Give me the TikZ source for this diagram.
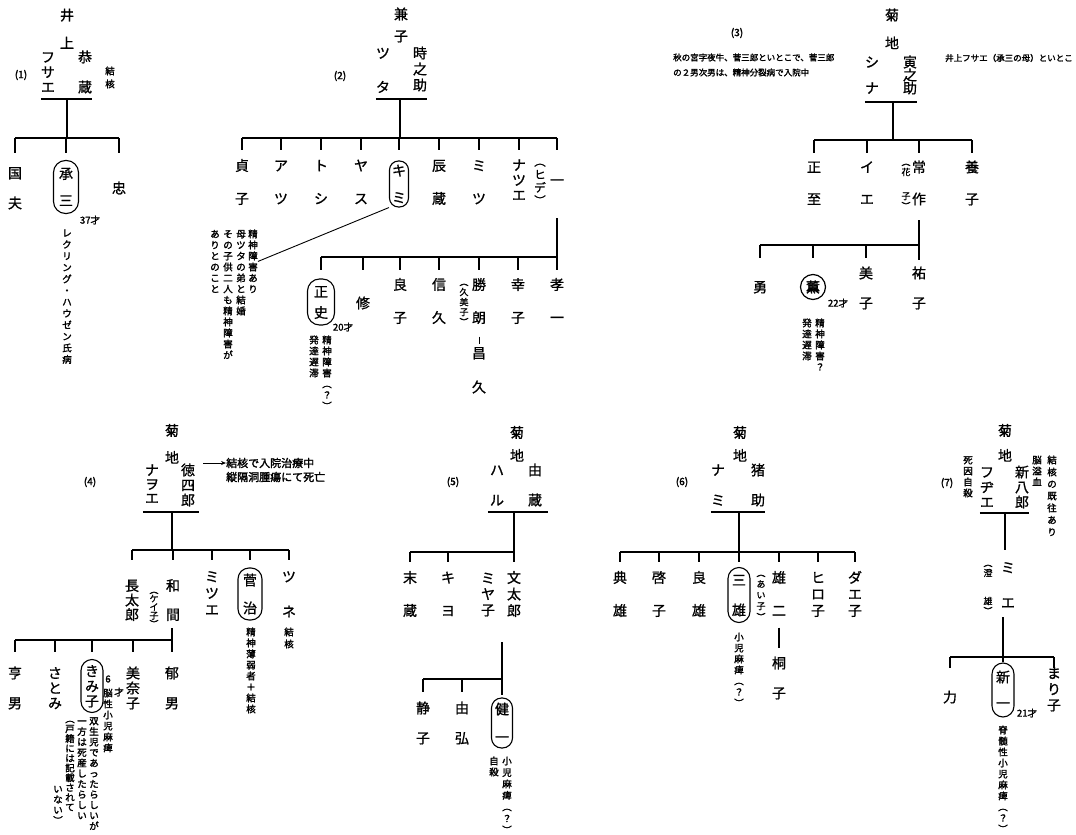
\documentclass[tikz,border=0pt]{standalone}
\usepackage{fontspec}
\setmainfont{Noto Sans CJK JP}[AutoFakeBold=2]
\newfontfamily\namefont{Noto Sans CJK JP}[FakeBold=1]
\usetikzlibrary{arrows.meta,calc}

% one character per line, for vertical writing
\newcommand\vtstrut{\rule[-0.12em]{0pt}{1em}}
\ExplSyntaxOn
\cs_new:Npn \vt_item:n #1 { \\ \vtstrut #1 }
\NewDocumentCommand \vt { m }
  {
    \vtstrut \tl_head:n {#1}
    \exp_args:Ne \tl_map_function:nN { \tl_tail:n {#1} } \vt_item:n
  }
\ExplSyntaxOff

\tikzset{
  nm/.style={font={\namefont\fontsize{14}{#1}\selectfont\lineskiplimit=-50pt}, inner sep=0pt, align=center},
  nm/.default=31,
  als/.style={font={\namefont\fontsize{9}{#1}\selectfont\lineskiplimit=-50pt}, inner sep=0pt, align=center},
  als/.default=10,
  note/.style={font={\bfseries\fontsize{9.5}{#1}\selectfont\lineskiplimit=-50pt}, inner sep=0pt, align=center, anchor=north},
  note/.default=11,
  hnote/.style={font={\bfseries\fontsize{8.5}{15}\selectfont}, inner sep=0pt, align=left},
  num/.style={font={\bfseries\fontsize{10}{12}\selectfont}, inner sep=0pt},
  age/.style={font={\bfseries\fontsize{9.5}{12}\selectfont}, inner sep=0pt},
  pill/.style={draw, line width=1.1pt, rounded corners=10pt, minimum width=22pt, minimum height=52pt,
    inner sep=0pt, align=center, font={\namefont\fontsize{14}{#1}\selectfont\lineskiplimit=-50pt}},
  pill/.default=28,
  ring/.style={draw, circle, line width=1.2pt, minimum size=25pt, inner sep=0pt, font={\bfseries\fontsize{14}{16}\selectfont}},
  tie/.style={line width=1.1pt},
  kin/.style={line width=1.1pt},
  arr/.style={line width=0.7pt, -{Stealth[length=5pt,width=4pt]}}
}

\begin{document}
\begin{tikzpicture}[x=1pt, y=-1pt]
  \fill[white] (0,0) rectangle (1076,834);

  % (1)
  \node[num] (l1) at (21,75) {(1)};
  \node[nm=28] (f1s) at (67,29) {\vt{井上}};
  \node[nm=15] (f1w) at (48,72) {\vt{フサエ}};
  \node[nm=30] (f1h) at (85,72) {\vt{恭蔵}};
  \node[note=13] (n1a) at (110,66) {\vt{結核}};
  \coordinate (m1) at (67,99);
  \coordinate (b1) at (67,138);
  \draw[tie] (f1w.west |- m1) -- (f1h.east |- m1);
  \draw[kin] (m1) -- (b1);
  \node[nm=30] (k1a) at (15,188) {\vt{国夫}};
  \node[pill=27, minimum width=25pt, minimum height=53pt, rounded corners=12pt] (k1b) at (66,187) {\vt{承三}};
  \node[nm] (k1c) at (119,188) {\vt{忠}};
  \draw[kin] (k1a |- b1) -- (k1c |- b1);
  \foreach \k in {k1a,k1b,k1c} \draw[kin] (\k |- b1) -- ++(0,15);
  \node[age] (a1) at (90,220) {37才};
  \node[note=11.5] (n1b) at (67,228) {\vt{レクリング・ハウゼン氏病}};

  % (2)
  \node[num] (l2) at (340,76) {(2)};
  \node[nm=22] (f2s) at (401,25) {\vt{兼子}};
  \node[nm=34] (f2w) at (383,70) {\vt{ツタ}};
  \node[nm=16] (f2h) at (420,69) {\vt{時之助}};
  \coordinate (m2) at (400,99);
  \coordinate (b2) at (400,138);
  \draw[tie] (f2w.west |- m2) -- (f2h.east |- m2);
  \draw[kin] (m2) -- (b2);
  \node[nm=33] (k2a) at (242,182) {\vt{貞子}};
  \node[nm=33] (k2b) at (281,182) {\vt{アツ}};
  \node[nm=33] (k2c) at (321,182) {\vt{トシ}};
  \node[nm=33] (k2d) at (361,182) {\vt{ヤス}};
  \node[pill=27, minimum width=19pt, minimum height=46pt, rounded corners=9pt] (k2e) at (399,184) {\vt{キミ}};
  \node[nm=33] (k2f) at (439,182) {\vt{辰蔵}};
  \node[nm=33] (k2g) at (479,182) {\vt{ミツ}};
  \node[nm=15] (k2h) at (519,180) {\vt{ナツエ}};
  \node[nm] (k2i) at (557,180) {\vt{一}};
  \node[als=13, font={\namefont\fontsize{11.5}{13}\selectfont\lineskiplimit=-50pt}] (a2a) at (540,181) {\vt{︵ヒデ︶}};
  \draw[kin] (k2a |- b2) -- (k2i |- b2);
  \foreach \k in {k2a,k2b,k2c,k2d,k2e,k2f,k2g,k2h,k2i} \draw[kin] (\k |- b2) -- ++(0,12);
  \node[note] (n2c) at (253,229) {\vt{精神障害あり}};
  \node[note] (n2d) at (241,229) {\vt{母ツタの弟と結婚}};
  \node[note] (n2e) at (228,229) {\vt{その子供二人も精神障害が}};
  \node[note] (n2f) at (215,229) {\vt{ありとのこと}};
  \draw[line width=0.9pt] (k2e.south west) -- (n2c.east);
  \coordinate (d2) at (557,218);
  \coordinate (b2b) at (557,257);
  \draw[kin] (d2) -- ++(0,52);
  \node[pill=21, minimum width=27pt, minimum height=46pt, rounded corners=12pt] (g2a) at (321,302) {\vt{正史}};
  \node[nm] (g2b) at (363,303) {\vt{修}};
  \node[nm=33] (g2c) at (400,301) {\vt{良子}};
  \node[nm=33] (g2d) at (439,301) {\vt{信久}};
  \node[nm=33] (g2e) at (479,301) {\vt{勝朗}};
  \node[nm=33] (g2f) at (518,301) {\vt{幸子}};
  \node[nm=33] (g2g) at (557,301) {\vt{孝一}};
  \node[als=10] (a2b) at (464,302) {\vt{︵久美子︶}};
  \draw[kin] (g2a |- b2b) -- (b2b);
  \foreach \k in {g2a,g2b,g2c,g2d,g2e,g2f} \draw[kin] (\k |- b2b) -- ++(0,13);
  \node[nm=34] (h2) at (479,370) {\vt{昌久}};
  \draw[line width=0.6pt, shorten <=12pt, shorten >=2pt] (g2e.south) -- (h2.north);
  \node[age] (a2c) at (343,327) {20才};
  \node[note] (n2a) at (327,335) {\vt{精神障害︵？︶}};
  \node[note] (n2b) at (314,335) {\vt{発達遅滞}};

  % (3)
  \node[num] (l3) at (737,33) {(3)};
  \node[hnote, anchor=west] (n3a) at (673,65) {秋の宮字夜牛、菅三郎といとこで、菅三郎\\の２男次男は、精神分裂病で入院中};
  \node[hnote, anchor=west] (n3b) at (945,58) {井上フサエ（承三の母）といとこ};
  \node[nm=28] (f3s) at (892,29) {\vt{菊地}};
  \node[nm=26] (f3w) at (872,75) {\vt{シナ}};
  \node[nm=13] (f3h) at (910,75) {\vt{寅之助}};
  \coordinate (m3) at (893,102);
  \coordinate (b3) at (893,140);
  \draw[tie] (f3w.west |- m3) -- (f3h.east |- m3);
  \draw[kin] (m3) -- (b3);
  \node[nm=32] (k3a) at (814,183) {\vt{正至}};
  \node[nm=32] (k3b) at (867,183) {\vt{イエ}};
  \node[nm=32] (k3c) at (919,183) {\vt{常作}};
  \node[nm=32] (k3d) at (972,183) {\vt{養子}};
  \node[als] (a3a) at (906,167) {\vt{︵花}};
  \node[als] (a3b) at (906,201) {\vt{子︶}};
  \draw[kin] (k3a |- b3) -- (k3d |- b3);
  \foreach \k in {k3a,k3b,k3c,k3d} \draw[kin] (\k |- b3) -- ++(0,13);
  \coordinate (d3) at (919,220);
  \coordinate (b3b) at (919,245);
  \draw[kin] (d3) -- ++(0,40);
  \node[nm] (g3a) at (760,287) {\vt{勇}};
  \node[ring] (g3b) at (813,287) {薫};
  \node[nm=30] (g3c) at (866,288) {\vt{美子}};
  \node[nm=30] (g3d) at (919,288) {\vt{祐子}};
  \draw[kin] (g3a |- b3b) -- (b3b);
  \foreach \k in {g3a,g3b,g3c} \draw[kin] (\k |- b3b) -- ++(0,13);
  \node[age] (a3c) at (838,303) {22才};
  \node[note] (n3c) at (820,318) {\vt{精神障害？}};
  \node[note] (n3d) at (807,318) {\vt{発達遅滞}};

  % (4)
  \node[num] (l4) at (90,482) {(4)};
  \node[nm=27] (f4s) at (172,444) {\vt{菊地}};
  \node[nm=14] (f4w) at (152,484) {\vt{ナヲエ}};
  \node[nm=15] (f4h) at (188,485) {\vt{徳四郎}};
  \node[hnote, font={\bfseries\fontsize{11}{14}\selectfont}, anchor=west] (n4a) at (226,470) {結核で入院治療中\\縦隔洞腫瘍にて死亡};
  \coordinate (t4) at (203,463);
  \draw[arr] (t4) -- (t4 -| n4a.west);
  \coordinate (m4) at (172,512);
  \coordinate (b4) at (172,550);
  \draw[tie, shorten <=-2pt, shorten >=-4pt] (f4w.west |- m4) -- (f4h.east |- m4);
  \draw[kin] (m4) -- (b4);
  \node[nm=14.5] (k4a) at (132,600) {\vt{長太郎}};
  \node[nm=29] (k4b) at (173,600) {\vt{和間}};
  \node[als=8.5] (a4a) at (154,607) {\vt{︵ケイ子︶}};
  \node[nm=16.5] (k4c) at (212,593) {\vt{ミツエ}};
  \node[pill=28, minimum width=24pt, minimum height=52pt, rounded corners=11pt] (k4d) at (250,594) {\vt{菅治}};
  \node[nm=35] (k4e) at (289,594) {\vt{ツネ}};
  \draw[kin] (k4a |- b4) -- (k4e |- b4);
  \foreach \k in {k4a,k4b,k4c,k4d,k4e} \draw[kin] (\k |- b4) -- ++(0,10);
  \node[note=12] (n4b) at (289,627) {\vt{結核}};
  \node[note] (n4c) at (251,627) {\vt{精神薄弱者＋結核}};
  \coordinate (d4) at (172,628);
  \coordinate (b4b) at (172,640);
  \draw[kin] (d4) -- ++(0,24);
  \node[nm=30] (g4a) at (15,688) {\vt{亨男}};
  \node[nm=15] (g4b) at (55,688) {\vt{さとみ}};
  \node[pill=15, minimum width=22pt, minimum height=53pt, rounded corners=11pt] (g4c) at (92,686) {\vt{きみ子}};
  \node[nm=15] (g4d) at (133,688) {\vt{美奈子}};
  \node[nm=30] (g4e) at (172,688) {\vt{郁男}};
  \draw[kin] (g4a |- b4b) -- (b4b);
  \foreach \k in {g4a,g4b,g4c,g4d} \draw[kin] (\k |- b4b) -- ++(0,12);
  \node[age] (a4b) at (108,679) {6};
  \node[age] (a4c) at (119,692) {才};
  \node[note] (n4d) at (108,688) {\vt{脳性小児麻痺}};
  \node[note=10.5] (n4e) at (94,716) {\vt{双生児であったらしいが}};
  \node[note=10.5] (n4f) at (82,716) {\vt{一方は死産したらしい}};
  \node[note=9.8] (n4g) at (70,714) {\vt{︵戸籍には記載されて}};
  \node[note=10.5] (n4h) at (58,784) {\vt{いない︶}};

  % (5)
  \node[num] (l5) at (453,482) {(5)};
  \node[nm=23] (f5s) at (517,444) {\vt{菊地}};
  \node[nm=30] (f5w) at (497,485) {\vt{ハル}};
  \node[nm=30] (f5h) at (535,485) {\vt{由蔵}};
  \coordinate (m5) at (514,512);
  \coordinate (b5) at (514,552);
  \draw[tie, shorten <=-2pt, shorten >=-6pt] (f5w.west |- m5) -- (f5h.east |- m5);
  \draw[kin] (m5) -- (b5);
  \node[nm=33] (k5a) at (410,594) {\vt{末蔵}};
  \node[nm=33] (k5b) at (448,594) {\vt{キヨ}};
  \node[nm=16] (k5c) at (488,594) {\vt{ミヤ子}};
  \node[nm=16.5] (k5d) at (514,594) {\vt{文太郎}};
  \draw[kin] (k5a |- b5) -- (b5);
  \foreach \k in {k5a,k5b,k5d} \draw[kin] (\k |- b5) -- ++(0,10);
  \coordinate (d5) at (502,642);
  \coordinate (b5b) at (502,679);
  \draw[kin] (d5) -- ++(0,53);
  \node[nm=30] (g5a) at (423,723) {\vt{静子}};
  \node[nm=30] (g5b) at (462,723) {\vt{由弘}};
  \node[pill=28, minimum width=21pt, minimum height=50pt, rounded corners=10pt] (g5c) at (502,723) {\vt{健一}};
  \draw[kin] (g5a |- b5b) -- (b5b);
  \foreach \k in {g5a,g5b} \draw[kin] (\k |- b5b) -- ++(0,13);
  \node[note=11.5] (n5a) at (507,756) {\vt{小児麻痺︵？︶}};
  \node[note] (n5b) at (494,756) {\vt{自殺}};

  % (6)
  \node[num] (l6) at (682,482) {(6)};
  \node[nm=23] (f6s) at (740,444) {\vt{菊地}};
  \node[nm=30] (f6w) at (718,485) {\vt{ナミ}};
  \node[nm=30] (f6h) at (758,485) {\vt{猪助}};
  \coordinate (m6) at (739,512);
  \coordinate (b6) at (739,552);
  \draw[tie] (f6w.west |- m6) -- (f6h.east |- m6);
  \draw[kin] (m6) -- (b6);
  \node[nm=33] (k6a) at (620,594) {\vt{典雄}};
  \node[nm=33] (k6b) at (659,594) {\vt{啓子}};
  \node[nm=33] (k6c) at (699,594) {\vt{良雄}};
  \node[pill=30, minimum width=22pt, minimum height=55pt, rounded corners=11pt] (k6d) at (739,595) {\vt{三雄}};
  \node[nm=33] (k6e) at (779,594) {\vt{雄二}};
  \node[als=11] (a6a) at (761,595) {\vt{︵あい子︶}};
  \node[nm=16.5] (k6f) at (818,594) {\vt{ヒロ子}};
  \node[nm=16.5] (k6g) at (855,594) {\vt{ダエ子}};
  \draw[kin] (k6a |- b6) -- (k6g |- b6);
  \foreach \k in {k6a,k6b,k6c,k6d,k6e,k6f,k6g} \draw[kin] (\k |- b6) -- ++(0,10);
  \node[note] (n6a) at (739,632) {\vt{小児麻痺︵？︶}};
  \node[nm=30] (h6) at (779,678) {\vt{桐子}};
  \draw[kin, shorten <=10pt, shorten >=8pt] (k6e.south) -- (h6.north);

  % (7)
  \node[num] (l7) at (947,483) {(7)};
  \node[nm=25] (f7s) at (1005,443) {\vt{菊地}};
  \node[nm=15] (f7w) at (987,487) {\vt{フヂエ}};
  \node[nm=15] (f7h) at (1022,487) {\vt{新八郎}};
  \node[note] (n7a) at (968,455) {\vt{死因自殺}};
  \node[note] (n7b) at (1037,455) {\vt{脳溢血}};
  \node[note=12] (n7c) at (1052,455) {\vt{結核の既往あり}};
  \coordinate (m7) at (1005,513);
  \draw[tie] (f7w.west |- m7) -- (f7h.east |- m7);
  \node[nm=35] (k7) at (1008,585) {\vt{ミエ}};
  \node[als] (a7a) at (988,568) {\vt{︵澄}};
  \node[als] (a7b) at (988,606) {\vt{雄︶}};
  \draw[kin, shorten >=10.5pt] (m7) -- (m7 |- k7.north);
  \coordinate (d7) at (1003,617);
  \coordinate (b7) at (1003,657);
  \node[nm] (g7a) at (950,697) {\vt{力}};
  \node[pill=26, minimum width=22pt, minimum height=54pt, rounded corners=11pt] (g7b) at (1003,690) {\vt{新一}};
  \node[nm=16] (g7c) at (1054,689) {\vt{まり子}};
  \draw[kin] (d7) -- (d7 |- g7b.north);
  \draw[kin] (g7a |- b7) -- (g7c |- b7);
  \foreach \k in {g7a,g7c} \draw[kin] (\k |- b7) -- ++(0,11);
  \node[age] (a7c) at (1027,713) {21才};
  \node[note] (n7d) at (1003,725) {\vt{脊髄性小児麻痺︵？︶}};
\end{tikzpicture}
\end{document}
